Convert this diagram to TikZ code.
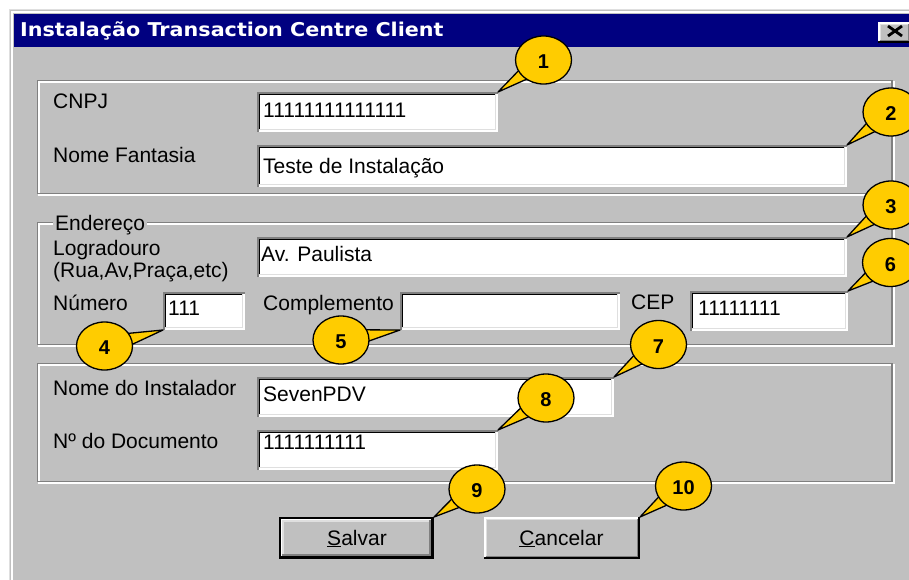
\documentclass[tikz,border=0pt]{standalone}
\usepackage{fontspec}
\setmainfont{Liberation Sans}
\newfontfamily\titlefont{DejaVu Sans}
\usetikzlibrary{calc}
\definecolor{wingray}{HTML}{C0C0C0}
\definecolor{winnavy}{HTML}{000080}
\definecolor{windark}{HTML}{808080}
\definecolor{winlight}{HTML}{DFDFDF}
\definecolor{callyellow}{HTML}{FFCC00}
\tikzset{
  lbl/.style={anchor=base west, inner sep=0pt, text=black, font=\fontsize{21}{25}\selectfont},
  btntext/.style={anchor=base, inner sep=0pt, text=black, font=\fontsize{21}{25}\selectfont},
  callnum/.style={inner sep=0pt, text=black, font=\fontsize{20}{22}\selectfont\bfseries},
  calltail/.style={fill=callyellow, draw=black, line width=1.3pt, line join=round},
  callbody/.style={fill=callyellow, draw=black, line width=1.3pt},
  edge3d/.style={line width=1.6pt},
}
% sunken text field: name, x1, y1, x2, y2
\newcommand\winfield[5]{%
  \fill[white] (#2,#3) rectangle (#4,#5);
  \coordinate (#1-nw) at (#2,#3);
  \coordinate (#1-ne) at (#4,#3);
  \coordinate (#1-sw) at (#2,#5);
  \coordinate (#1-se) at (#4,#5);
  \draw[edge3d,windark] ({#2+0.8},#5) -- ({#2+0.8},{#3+0.8}) -- (#4,{#3+0.8});
  \draw[edge3d,black] ({#2+2.4},{#5-1.6}) -- ({#2+2.4},{#3+2.4}) -- ({#4-1.6},{#3+2.4});
  \draw[edge3d,winlight] ({#2+1.6},{#5-2.4}) -- ({#4-2.4},{#5-2.4}) -- ({#4-2.4},{#3+1.6});
}
% raised button: name, x1, y1, x2, y2
\newcommand\winbutton[5]{%
  \fill[wingray] (#2,#3) rectangle (#4,#5);
  \coordinate (#1-nw) at (#2,#3);
  \coordinate (#1-ne) at (#4,#3);
  \draw[edge3d,black] (#2,{#5-0.8}) -- ({#4-0.8},{#5-0.8}) -- ({#4-0.8},#3);
  \draw[edge3d,white] ({#2+0.8},{#5-1.6}) -- ({#2+0.8},{#3+0.8}) -- ({#4-1.6},{#3+0.8});
  \draw[edge3d,windark] ({#2+1.6},{#5-2.4}) -- ({#4-2.4},{#5-2.4}) -- ({#4-2.4},{#3+1.6});
  \draw[edge3d,winlight] ({#2+2.4},{#5-3.2}) -- ({#2+2.4},{#3+2.4}) -- ({#4-3.2},{#3+2.4});
}
% etched group frame: x1, y1, x2, y2
\newcommand\winetched[4]{%
  \draw[line width=1.7pt,white] ({#1+1.7},{#2+1.7}) rectangle ({#3+1.7},{#4+1.7});
  \draw[line width=1.7pt,windark] (#1,#2) rectangle (#3,#4);
}
% callout: name, cx, cy, tip coordinate, number
\newcommand\wincallout[5]{%
  \coordinate (#1) at (#2,#3);
  \draw[calltail] ($(#1)!18pt!25:(#4)$) -- (#4) -- ($(#1)!18pt!-25:(#4)$) -- cycle;
  \draw[callbody] (#1) ellipse [x radius=28pt, y radius=24pt];
  \node[callnum] (#1-num) at ($(#1)+(0,2)$) {#5};
}
\begin{document}
\begin{tikzpicture}[x=1pt,y=-1pt]
\useasboundingbox (0,0) rectangle (909,580);
\clip (0,0) rectangle (909,580);
\fill[white] (0,0) rectangle (909,580);
% window
\fill[wingray] (9,10) rectangle (920,590);
\draw[line width=1.4pt,winlight] (9.7,590) -- (9.7,9.7) -- (920,9.7);
\draw[line width=2pt,white] (12,590) -- (12,12) -- (920,12);
\fill[winnavy] (14,14) rectangle (920,47);
\node[anchor=base west, inner sep=0pt, text=white, font=\titlefont\bfseries\fontsize{19}{22}\selectfont] (title) at (20,37) {\scalebox{1.09}[1]{Instalação Transaction Centre Client}};
\winbutton{close}{878}{22}{911}{43}
\draw[line width=2.8pt,black] (888,26) -- (902,36) (888,36) -- (902,26);
% group frames
\winetched{37.5}{80.5}{892}{193.5}
\winetched{37.5}{222.5}{892}{344.5}
\winetched{37.5}{363.5}{892}{481.5}
% group 1
\node[lbl] (lcnpj) at (53,109) {CNPJ};
\winfield{cnpj}{257}{92}{498}{132}
\node[lbl] (vcnpj) at (263,118) {11111111111111};
\node[lbl] (lfant) at (53,163) {Nome Fantasia};
\winfield{fant}{257}{145}{847}{187}
\node[lbl] (vfant) at (263,173) {Teste de Instalação};
% group 2
\node[lbl, fill=wingray, inner xsep=2pt, inner ysep=1pt] (lend) at (53,230) {Endereço};
\node[lbl] (llogr) at (53,255) {Logradouro};
\node[lbl] (llogr2) at (53,277) {(Rua,Av,Praça,etc)};
\winfield{logr}{257}{237}{847}{277}
\node[lbl] (vlogr) at (261,261) {Av. Paulista};
\node[lbl] (lnum) at (53,310) {Número};
\winfield{num}{163}{292}{245}{330}
\node[lbl] (vnum) at (168,315) {111};
\node[lbl] (lcomp) at (263,310) {Complemento};
\winfield{comp}{400}{292}{620}{330}
\node[lbl] (lcep) at (631,309) {CEP};
\winfield{cep}{690}{291}{848}{331}
\node[lbl] (vcep) at (698,315) {11111111};
% group 3
\node[lbl] (linst) at (53,395) {Nome do Instalador};
\winfield{inst}{257}{377}{614}{417}
\node[lbl] (vinst) at (263,401) {SevenPDV};
\node[lbl] (ldoc) at (53,448) {Nº do Documento};
\winfield{doc}{257}{430}{498}{470}
\node[lbl] (vdoc) at (263,449) {1111111111};
% buttons
\draw[line width=1.6pt,black] (279.8,517.8) rectangle (433.2,558.2);
\coordinate (salvar-ne) at (434,517);
\winbutton{salvarin}{280.6}{518.6}{432.4}{557.4}
\node[btntext] (tsalvar) at (357,545) {\underline{S}alvar};
\winbutton{cancel}{484}{517}{640}{559}
\node[btntext] (tcancel) at (561.5,545) {\underline{C}ancelar};
% callouts
\wincallout{c1}{543.5}{60}{cnpj-ne}{1}
\wincallout{c2}{891}{112}{fant-ne}{2}
\wincallout{c3}{891}{205}{logr-ne}{3}
\wincallout{c4}{104.5}{346}{num-sw}{4}
\wincallout{c5}{341}{340}{comp-sw}{5}
\wincallout{c6}{890.5}{262.5}{cep-ne}{6}
\wincallout{c7}{658.5}{344.5}{inst-ne}{7}
\wincallout{c8}{546}{398}{doc-ne}{8}
\wincallout{c9}{477}{489}{salvar-ne}{9}
\wincallout{c10}{683.5}{486}{cancel-ne}{10}
\end{tikzpicture}
\end{document}
